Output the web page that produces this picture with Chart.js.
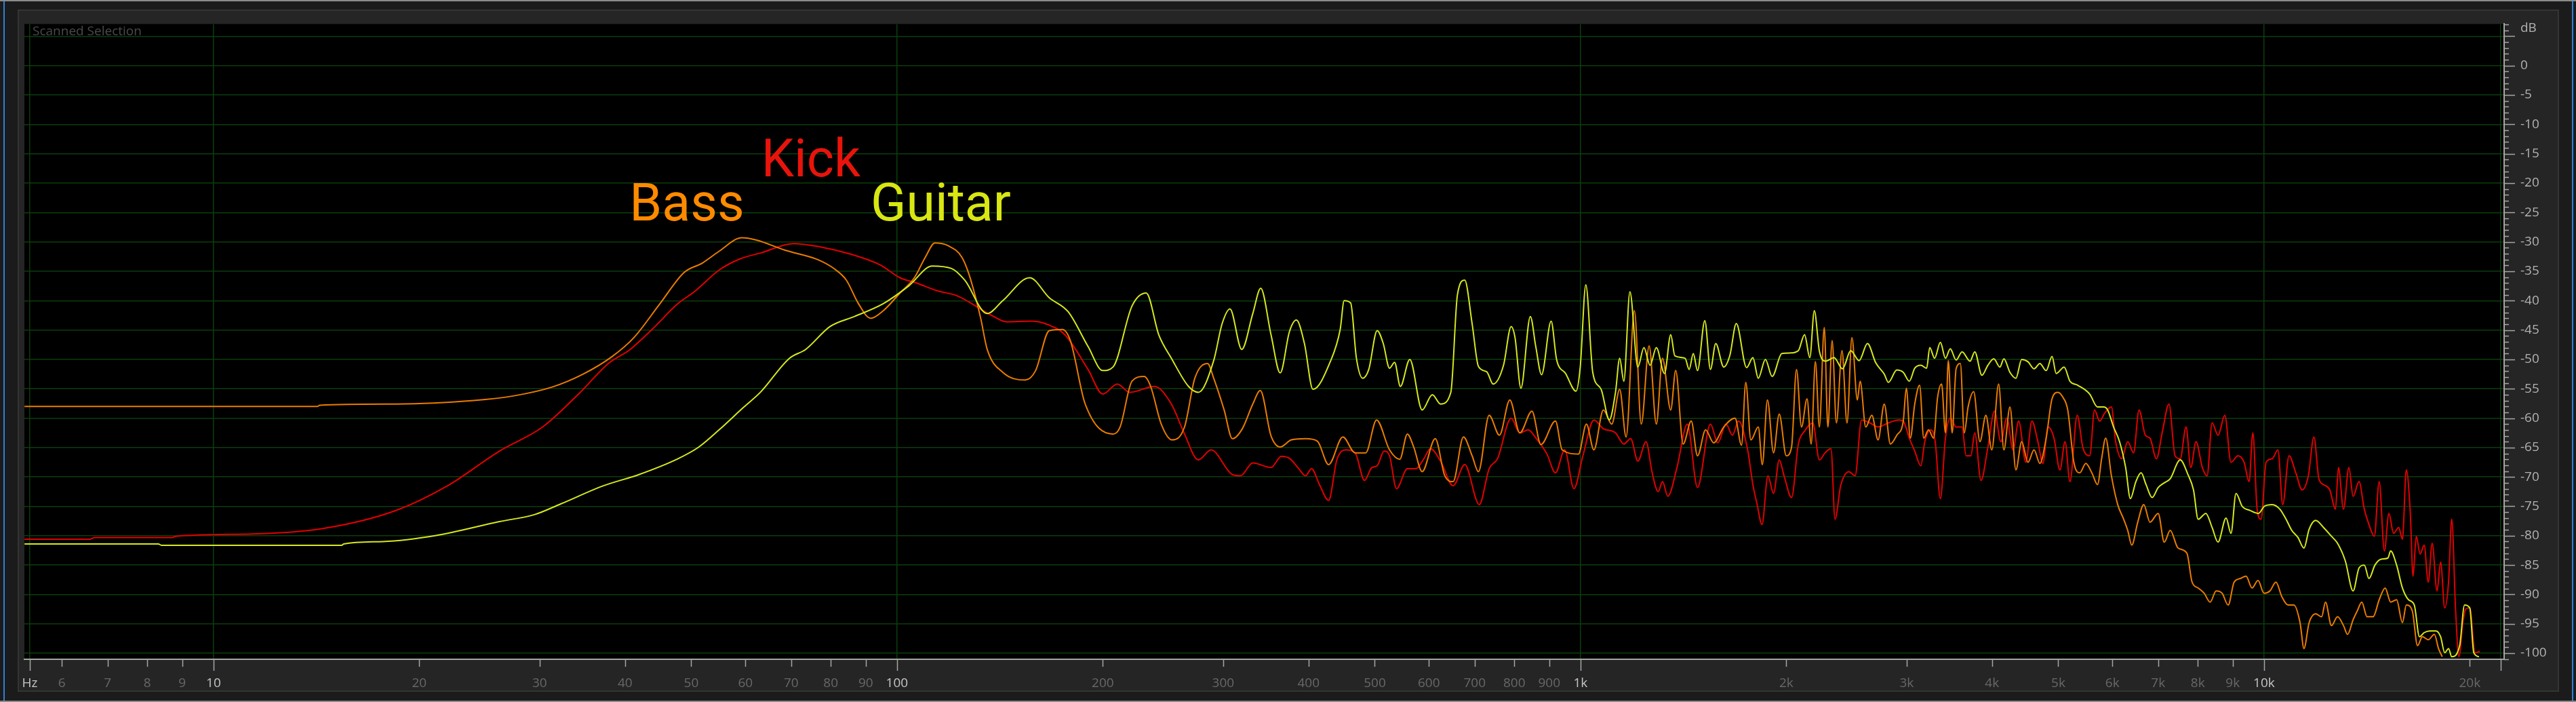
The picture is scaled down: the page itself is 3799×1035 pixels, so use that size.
<!DOCTYPE html>
<html>
<head>
<meta charset="utf-8">
<title>Scanned Selection - Spectrum</title>
<script src="https://cdn.jsdelivr.net/npm/chart.js@4.4.1/dist/chart.umd.min.js"></script>
<style>
  html, body { margin: 0; padding: 0; background: #1c1c1c; overflow: hidden; }
  canvas { display: block; }
</style>
</head>
<body>
<canvas id="spectrum" width="3799" height="1035"></canvas>
<script>
// axis ticks
const hzTicks = [5.385, 6, 7, 8, 9, 10, 20, 30, 40, 50, 60, 70, 80, 90, 100,
  200, 300, 400, 500, 600, 700, 800, 900, 1000,
  2000, 3000, 4000, 5000, 6000, 7000, 8000, 9000, 10000, 20000, 22200];
const hzLabels = ["Hz", "6", "7", "8", "9", "10", "20", "30", "40", "50", "60", "70", "80", "90", "100",
  "200", "300", "400", "500", "600", "700", "800", "900", "1k",
  "2k", "3k", "4k", "5k", "6k", "7k", "8k", "9k", "10k", "20k", ""];
const hzMajor = [5.385, 10, 100, 1000, 10000, 22200];
const dbTicks = [5, 0, -5, -10, -15, -20, -25, -30, -35, -40, -45, -50, -55, -60, -65, -70, -75, -80, -85, -90, -95, -100];
const dbLabels = [["dB", ""], "0", "-5", "-10", "-15", "-20", "-25", "-30", "-35", "-40", "-45", "-50", "-55", "-60", "-65", "-70", "-75", "-80", "-85", "-90", "-95", "-100"];

// Bass
const bassHz = [5.29, 14.2, 14.3, 18.5, 24, 27.5, 31.3, 34.6, 38.3, 41.2, 45, 48.8, 51.9, 54.9, 59.3, 62.3, 68.5, 76.5, 81, 84.3,
  87.8, 91.5, 95.5, 101, 106, 110, 113.6, 119, 124.4, 127.5, 132.5, 135.5, 142.8, 154, 159.5, 167, 174.5, 179.3, 188.5, 207,
  212, 220.7, 230, 235, 243.5, 252.5, 263.4, 272.7, 284.7, 290.6, 301, 309.5, 320, 331.5, 340, 352.5, 363.6, 377.5, 396, 412,
  428, 449, 468, 485, 503, 525.5, 544, 558, 570, 586.5, 613, 633, 651, 674, 694, 709, 735, 761, 788, 815,
  849, 875, 919, 940, 993, 1020, 1046, 1080, 1111, 1141, 1166, 1199, 1227, 1260, 1291, 1318, 1355, 1378, 1413, 1452,
  1483, 1524, 1566, 1620, 1683, 1720, 1745, 1775, 1820, 1845, 1877, 1916, 1953, 2000, 2036, 2070, 2105, 2145, 2175, 2206,
  2236, 2273, 2301, 2334, 2368, 2413, 2454, 2495, 2541, 2565, 2614, 2668, 2725, 2782, 2840, 2902, 2966, 2997, 3037, 3083,
  3134, 3178, 3230, 3285, 3330, 3375, 3419, 3452, 3497, 3544, 3595, 3643, 3690, 3760, 3840, 3918, 3997, 4090, 4163, 4249,
  4335, 4420, 4515, 4608, 4700, 4800, 4896, 4996, 5075, 5162, 5269, 5376, 5486, 5599, 5707, 5786, 5866, 5980, 6108, 6233,
  6318, 6405, 6535, 6669, 6810, 7000, 7146, 7290, 7485, 7712, 7848, 8010, 8174, 8340, 8510, 8684, 8862, 9041, 9226, 9412,
  9605, 9800, 10000, 10200, 10410, 10620, 10840, 11060, 11290, 11440, 11640, 11900, 12140, 12300, 12550, 12810, 13070, 13250, 13500, 13690,
  13900, 14150, 14440, 14740, 15040, 15320, 15630, 15940, 16150, 16480, 16770, 17050, 17390, 17750, 18000, 18230];
const bassDb = [-58.0, -58.0, -57.8, -57.6, -57.0, -56.2, -54.7, -52.6, -49.5, -46.3, -40.5, -35.2, -33.6, -31.6, -29.3, -29.7, -31.4, -33.0, -34.6, -36.5,
  -40.5, -43.0, -41.7, -38.7, -36.1, -32.6, -30.2, -30.7, -32.6, -35.6, -42.9, -48.3, -52.2, -53.5, -51.9, -45.1, -44.9, -46.8, -57.6, -62.7,
  -61.5, -53.7, -52.9, -54.6, -61.0, -63.7, -61.5, -53.2, -50.7, -53.2, -58.6, -63.5, -61.8, -57.6, -55.3, -63.0, -64.9, -63.7, -63.5, -63.9,
  -67.9, -63.2, -65.9, -65.9, -60.3, -65.4, -67.0, -62.7, -64.9, -69.1, -63.5, -69.8, -70.8, -63.2, -66.4, -69.1, -59.5, -62.9, -56.9, -62.5,
  -58.8, -64.5, -60.5, -65.4, -66.1, -61.0, -65.4, -58.6, -61.0, -55.1, -63.2, -41.7, -61.0, -47.7, -61.0, -49.8, -58.6, -51.9, -64.4, -60.5,
  -66.4, -62.0, -64.2, -61.5, -60.0, -64.6, -53.9, -63.7, -61.5, -67.9, -56.9, -65.9, -59.3, -66.4, -64.9, -51.7, -61.5, -56.7, -64.4, -50.4,
  -61.5, -44.6, -61.5, -46.8, -60.8, -48.5, -60.8, -46.3, -56.9, -53.7, -61.5, -59.5, -63.7, -57.6, -64.4, -62.9, -60.5, -54.9, -63.4, -57.6,
  -54.4, -63.4, -62.0, -63.4, -56.4, -54.2, -62.5, -50.2, -62.5, -51.6, -50.7, -62.5, -58.1, -55.5, -64.0, -59.5, -65.4, -54.2, -65.4, -58.1,
  -68.8, -64.0, -67.5, -65.4, -67.7, -63.4, -56.7, -55.6, -56.4, -58.6, -67.5, -69.3, -67.7, -69.3, -71.3, -66.9, -63.4, -69.8, -74.7, -77.2,
  -79.1, -81.6, -77.7, -74.7, -77.7, -76.2, -81.1, -79.1, -82.1, -83.0, -87.9, -88.9, -89.8, -91.3, -89.4, -89.8, -91.8, -87.9, -87.3, -86.9,
  -88.9, -87.6, -89.8, -89.4, -87.9, -90.4, -91.8, -91.8, -94.8, -99.2, -94.8, -93.3, -93.8, -91.3, -95.3, -93.8, -95.3, -96.8, -94.3, -92.8,
  -91.3, -93.8, -93.8, -90.9, -88.9, -91.3, -90.9, -94.8, -91.8, -92.8, -98.7, -97.2, -97.7, -96.8, -99.2, -100.6];

// Kick
const kickHz = [5.29, 6.6, 6.7, 8.7, 8.8, 11.4, 14.6, 18.5, 22, 26.2, 30.3, 34.4, 37.8, 40.7, 43.8, 47.8, 50.5, 54.9, 58.9, 63.1,
  70.6, 77.6, 85.6, 94.4, 101, 106.8, 114.4, 122.6, 137, 144.8, 157.4, 166.4, 176, 190.3, 200, 210, 219, 238, 252, 263,
  276, 288, 309.5, 318, 331.5, 352.5, 365, 375.7, 387, 396, 404, 415, 428, 440, 453, 468, 483, 495, 504, 516,
  525.5, 538, 558, 574, 590, 603, 624, 651, 677, 711, 735, 756, 791.5, 815, 838, 862, 893, 919, 948, 978,
  1008, 1046, 1080, 1125, 1157, 1184, 1213, 1247, 1273, 1299, 1318, 1342, 1384, 1433, 1483, 1549, 1588, 1633, 1668, 1703,
  1756, 1787, 1813, 1843, 1880, 1916, 1953, 1985, 2036, 2083, 2127, 2187, 2236, 2279, 2325, 2357, 2402, 2470, 2522, 2577,
  2650, 2725, 2821, 2921, 2966, 3027, 3083, 3147, 3189, 3253, 3303, 3361, 3419, 3475, 3544, 3616, 3665, 3724, 3774, 3854,
  3944, 4033, 4121, 4204, 4294, 4375, 4483, 4575, 4668, 4747, 4830, 4928, 5028, 5116, 5200, 5330, 5432, 5559, 5650, 5747,
  5849, 5980, 6066, 6191, 6318, 6444, 6563, 6705, 6810, 6960, 7100, 7260, 7410, 7540, 7690, 7813, 7953, 8124, 8255, 8395,
  8564, 8763, 8946, 9160, 9350, 9510, 9630, 9770, 9900, 10070, 10280, 10480, 10650, 10880, 11130, 11370, 11610, 11830, 12030, 12220,
  12480, 12720, 12850, 13070, 13310, 13500, 13770, 14020, 14240, 14500, 14740, 15000, 15230, 15470, 15740, 15940, 16150, 16370, 16520, 16700,
  16920, 17150, 17390, 17620, 17910, 18130, 18380, 18620, 18820, 19070, 19280, 19540, 19730, 20000, 20360, 20690];
const kickDb = [-80.6, -80.6, -80.3, -80.3, -80.1, -79.7, -78.7, -75.7, -71.5, -65.6, -61.5, -55.6, -50.7, -48.3, -44.9, -40.5, -38.5, -34.8, -32.9, -31.9,
  -30.3, -30.9, -32.1, -33.9, -36.1, -37.0, -38.3, -39.2, -42.4, -43.6, -43.5, -44.1, -45.8, -51.7, -55.9, -54.2, -55.6, -54.6, -57.6, -62.5,
  -67.1, -65.4, -69.6, -69.8, -67.6, -68.4, -66.5, -66.9, -68.6, -69.8, -68.6, -71.3, -74.0, -67.1, -65.4, -65.9, -70.6, -68.4, -68.1, -65.6,
  -66.4, -72.0, -68.6, -68.6, -66.9, -65.2, -67.3, -71.5, -67.9, -74.7, -68.6, -66.9, -60.0, -62.5, -62.0, -63.5, -66.1, -69.3, -65.4, -72.0,
  -66.4, -60.3, -61.8, -62.5, -64.4, -63.5, -67.3, -64.0, -69.3, -72.5, -70.8, -73.3, -68.4, -61.0, -71.8, -61.0, -64.2, -61.0, -62.9, -60.5,
  -65.4, -71.3, -74.7, -78.1, -69.8, -72.8, -67.1, -69.8, -73.5, -64.4, -62.2, -60.8, -67.1, -65.9, -65.2, -77.2, -71.5, -69.1, -69.8, -60.3,
  -60.8, -61.5, -60.8, -60.3, -60.5, -63.4, -65.6, -68.1, -64.0, -62.0, -64.0, -73.7, -63.4, -60.0, -61.5, -61.5, -66.4, -66.4, -62.5, -70.6,
  -65.0, -58.8, -64.0, -60.0, -65.4, -60.5, -67.5, -60.5, -64.0, -67.7, -61.5, -63.4, -68.8, -64.0, -70.8, -59.5, -65.0, -66.4, -58.6, -60.5,
  -59.1, -58.1, -64.0, -66.9, -64.0, -65.9, -58.6, -62.9, -63.4, -66.9, -62.3, -57.6, -66.4, -66.9, -61.5, -68.4, -64.0, -68.4, -69.8, -60.8,
  -62.9, -59.5, -67.5, -66.4, -67.5, -70.8, -62.5, -75.5, -77.2, -67.5, -66.9, -65.4, -74.7, -66.4, -69.3, -72.2, -69.8, -63.2, -70.3, -71.3,
  -72.2, -75.5, -68.4, -75.5, -68.4, -73.3, -70.8, -75.5, -78.1, -80.1, -70.8, -82.6, -76.2, -79.6, -78.6, -80.6, -68.8, -76.2, -86.9, -80.1,
  -83.1, -81.6, -87.9, -81.3, -89.4, -84.5, -92.3, -87.9, -77.2, -92.8, -100.6, -94.8, -92.5, -92.3, -99.9, -99.7];

// Guitar
const guitarHz = [5.29, 8.3, 8.4, 15.4, 15.5, 17.7, 21.1, 26.2, 29.5, 32.2, 37.2, 41.9, 47.8, 51.3, 54.9, 59.7, 63.1, 69.6, 73.5, 79.8,
  86.6, 95.5, 104, 112.6, 120, 125.6, 135.5, 142.8, 156.3, 167, 178, 190.3, 200, 207, 220.7, 231.5, 241.5, 252, 267, 276,
  290.6, 299, 307, 319.4, 331.5, 340.5, 352.5, 363.6, 375, 384, 394.5, 406, 430, 445, 451, 461, 470, 480, 490, 504,
  514.5, 525.5, 534.5, 545, 562.6, 586.5, 607, 624, 646, 660.5, 677, 694, 709, 729, 745, 771.5, 791.5, 802, 818, 844.5,
  860, 877, 905.7, 922.5, 951, 985, 999, 1018, 1042, 1072, 1102, 1125, 1141, 1157, 1181, 1213, 1238, 1264, 1291, 1327,
  1355, 1374, 1422, 1442, 1462, 1483, 1520, 1549, 1577, 1620, 1654, 1690, 1750, 1787, 1820, 1864, 1907, 1970, 2026, 2083,
  2127, 2165, 2198, 2236, 2284, 2349, 2417, 2485, 2556, 2629, 2704, 2782, 2821, 2902, 2966, 3027, 3083, 3147, 3209, 3243,
  3296, 3361, 3419, 3475, 3544, 3616, 3714, 3774, 3866, 3944, 4024, 4107, 4163, 4249, 4335, 4420, 4515, 4608, 4700, 4800,
  4896, 4965, 5100, 5200, 5340, 5559, 5707, 5828, 5905, 6024, 6147, 6274, 6375, 6494, 6609, 6720, 6860, 7000, 7146, 7290,
  7540, 7739, 7885, 8010, 8220, 8395, 8564, 8800, 8946, 9100, 9290, 9540, 9815, 10010, 10280, 10550, 10770, 10980, 11210, 11440,
  11640, 11900, 12220, 12550, 12810, 13150, 13500, 13770, 14020, 14240, 14530, 14830, 15180, 15320, 15630, 15940, 16270, 16590, 16880, 17150,
  17490, 17840, 18130, 18380, 18620, 18820, 19330, 19650, 20000, 20270, 20630];
const guitarDb = [-81.4, -81.4, -81.65, -81.65, -81.4, -81.0, -80.0, -77.6, -76.4, -74.6, -71.5, -69.6, -66.9, -64.9, -62.0, -58.1, -55.6, -49.8, -48.3, -44.4,
  -42.7, -40.5, -37.5, -34.1, -34.5, -36.5, -42.2, -40.0, -36.1, -39.5, -41.9, -47.8, -51.9, -51.3, -40.9, -38.7, -45.8, -49.8, -54.6, -55.6,
  -50.2, -43.9, -41.4, -48.3, -42.2, -37.9, -45.8, -52.3, -45.3, -43.3, -47.3, -55.1, -50.5, -44.9, -40.0, -40.4, -49.8, -53.2, -51.7, -45.1,
  -47.3, -51.5, -50.5, -54.6, -50.0, -58.6, -56.0, -57.6, -55.6, -39.0, -36.5, -43.9, -51.2, -52.1, -54.2, -51.0, -44.4, -46.3, -54.9, -42.7,
  -47.8, -52.6, -43.5, -50.0, -52.4, -55.4, -51.3, -37.3, -52.2, -55.1, -60.3, -55.6, -49.8, -53.7, -38.5, -51.3, -48.0, -51.0, -48.0, -52.4,
  -45.8, -49.4, -49.8, -51.7, -49.0, -51.9, -43.4, -51.7, -47.3, -51.3, -49.3, -43.9, -51.4, -49.7, -53.2, -50.0, -52.9, -49.0, -48.9, -48.5,
  -45.8, -49.7, -41.7, -48.6, -50.3, -49.7, -51.6, -48.5, -50.2, -47.3, -50.6, -52.5, -53.9, -51.8, -52.2, -53.7, -51.5, -51.0, -51.5, -48.0,
  -49.8, -47.1, -49.8, -48.2, -50.1, -48.7, -50.3, -48.7, -52.7, -51.0, -49.9, -51.3, -49.9, -52.2, -53.2, -50.0, -50.4, -51.6, -50.7, -51.9,
  -49.5, -52.4, -51.3, -53.7, -54.4, -55.9, -58.1, -58.1, -58.6, -61.5, -64.0, -68.4, -73.7, -70.8, -69.3, -71.3, -73.5, -71.8, -71.0, -70.3,
  -67.1, -69.6, -72.2, -77.2, -76.2, -78.6, -81.1, -77.0, -79.6, -72.8, -75.0, -75.7, -76.2, -75.0, -74.7, -75.5, -77.2, -79.1, -80.3, -82.1,
  -78.9, -77.4, -78.6, -80.1, -81.3, -84.3, -89.4, -85.5, -85.0, -87.3, -85.0, -84.0, -83.8, -82.6, -85.0, -88.9, -90.9, -91.8, -97.2, -96.5,
  -96.2, -96.2, -97.2, -99.9, -99.2, -100.6, -98.7, -91.8, -92.3, -99.9, -100.6];

// on-plot labels, anchored in data units (left edge, baseline)
const notes = [
  { text: "Bass", hz: 40.6, db: -26.3, color: "#ff8a00" },
  { text: "Kick", hz: 63.3, db: -18.8, color: "#e8140c" },
  { text: "Guitar", hz: 91.5, db: -26.3, color: "#d8e612" },
];

const toPoints = (hz, db) => hz.map((f, i) => ({ x: f, y: db[i] }));

const W = 3799;
const H = 1035;

const framePlugin = {
  id: "frame",
  beforeDraw(chart) {
    const { ctx, chartArea: a } = chart;
    ctx.save();
    ctx.fillStyle = "#1b1b1b";
    ctx.fillRect(0, 0, W, H);
    // top / bottom light strips
    ctx.fillStyle = "#8a8a8a";
    ctx.fillRect(0, 0, W, 2);
    ctx.fillRect(0, H - 2, W, 2);
    // blue edges
    ctx.fillStyle = "#2f7fd8";
    ctx.fillRect(5, 2, 2, H - 4);
    ctx.fillRect(3793, 2, 2, H - 4);
    // inner panel
    ctx.fillStyle = "#252525";
    ctx.fillRect(27, 15, 3773 - 27, 1019 - 15);
    ctx.strokeStyle = "#343434";
    ctx.lineWidth = 2;
    ctx.strokeRect(27, 15, 3773 - 27, 1019 - 15);
    // plot background
    ctx.fillStyle = "#000";
    ctx.fillRect(a.left, a.top, a.right - a.left, a.bottom - a.top);
    ctx.restore();
  },
  beforeDatasetsDraw(chart) {
    const { ctx } = chart;
    ctx.save();
    ctx.fillStyle = "#4a4a4a";
    ctx.font = "19px 'Open Sans'";
    ctx.textBaseline = "alphabetic";
    ctx.fillText("Scanned Selection", 48, 52);
    ctx.restore();
  },
  afterDatasetsDraw(chart) {
    const { ctx, scales } = chart;
    ctx.save();
    ctx.font = "77px Roboto";
    ctx.textBaseline = "alphabetic";
    notes.forEach((n) => {
      ctx.fillStyle = n.color;
      ctx.fillText(n.text, scales.x.getPixelForValue(n.hz), scales.y.getPixelForValue(n.db));
    });
    ctx.restore();
  },
  afterDraw(chart) {
    const { ctx, scales } = chart;
    const x = scales.x;
    const y = scales.y;
    ctx.save();
    ctx.strokeStyle = "#a6a6a6";
    ctx.lineWidth = 1.5;
    ctx.beginPath();
    hzTicks.forEach((v) => {
      const px = Math.round(x.getPixelForValue(v)) + 0.5;
      const len = hzMajor.includes(v) ? 17 : 11;
      ctx.moveTo(px, x.top);
      ctx.lineTo(px, x.top + len);
    });
    for (let v = -101; v <= 7; v++) {
      const py = Math.round(y.getPixelForValue(v)) + 0.5;
      const len = v % 5 === 0 ? 16 : 7;
      ctx.moveTo(y.left, py);
      ctx.lineTo(y.left + len, py);
    }
    ctx.stroke();
    ctx.restore();
  },
};

const lineStyle = (color) => ({
  borderColor: color,
  borderWidth: 2,
  pointRadius: 0,
  cubicInterpolationMode: "monotone",
  fill: false,
  borderJoinStyle: "round",
});

new Chart(document.getElementById("spectrum"), {
  type: "line",
  data: {
    datasets: [
      { label: "Guitar", data: toPoints(guitarHz, guitarDb), ...lineStyle("#d6e81e") },
      { label: "Bass", data: toPoints(bassHz, bassDb), ...lineStyle("#ec7c00") },
      { label: "Kick", data: toPoints(kickHz, kickDb), ...lineStyle("#e30000") },
    ],
  },
  options: {
    responsive: false,
    animation: false,
    events: [],
    layout: { padding: { left: 36, top: 25, right: 0, bottom: 0 } },
    plugins: {
      legend: { display: false },
      tooltip: { enabled: false },
    },
    scales: {
      x: {
        type: "logarithmic",
        position: "bottom",
        min: 5.288,
        max: 22453,
        afterBuildTicks: (scale) => {
          scale.ticks = hzTicks.map((v) => ({ value: v }));
        },
        afterFit: (scale) => {
          scale.height = 63;
        },
        ticks: {
          autoSkip: false,
          maxRotation: 0,
          padding: 24,
          font: { family: "'Open Sans'", size: 19 },
          color: (c) => (hzMajor.includes(hzTicks[c.index]) ? "#c6c6c6" : "#686868"),
          callback: (value, index) => hzLabels[index],
        },
        grid: {
          drawTicks: false,
          lineWidth: 1.5,
          color: (c) => (hzMajor.includes(hzTicks[c.index]) ? "#0c3d0c" : "rgba(0,0,0,0)"),
        },
        border: { display: true, color: "#a6a6a6", width: 2 },
      },
      y: {
        type: "linear",
        position: "right",
        min: -101.03,
        max: 7.08,
        afterBuildTicks: (scale) => {
          scale.ticks = dbTicks.map((v) => ({ value: v }));
        },
        afterFit: (scale) => {
          scale.width = 106;
        },
        ticks: {
          autoSkip: false,
          padding: 24,
          font: { family: "'Open Sans'", size: 19 },
          color: "#b2b2b2",
          callback: (value, index) => dbLabels[index],
        },
        grid: {
          drawTicks: false,
          lineWidth: 1.5,
          color: "#0c3d0c",
        },
        border: { display: true, color: "#a6a6a6", width: 2 },
      },
    },
  },
  plugins: [framePlugin],
});
</script>
</body>
</html>
